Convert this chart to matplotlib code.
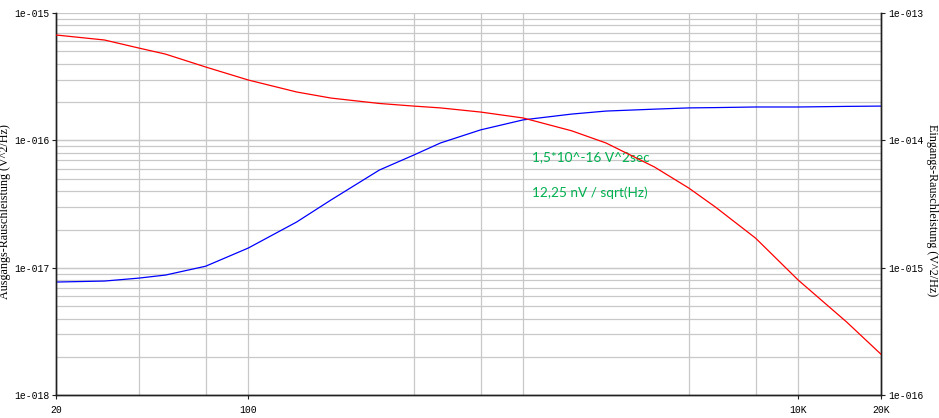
import numpy as np
import matplotlib.pyplot as plt
from matplotlib.ticker import FixedLocator, NullLocator, FixedFormatter

# Frequenzen (Hz)
freq = [20, 30, 40, 50, 70, 100, 150, 200, 300, 400, 500, 700, 1000,
        1500, 2000, 3000, 4000, 5000, 7000, 10000, 15000, 20000]

# Ausgangs-Rauschleistung (V^2/Hz), linke Achse
out_noise = [7.74e-18, 7.88e-18, 8.31e-18, 8.78e-18, 1.03e-17, 1.43e-17,
             2.29e-17, 3.41e-17, 5.86e-17, 7.68e-17, 9.55e-17, 1.21e-16,
             1.45e-16, 1.61e-16, 1.70e-16, 1.76e-16, 1.80e-16, 1.81e-16,
             1.83e-16, 1.83e-16, 1.85e-16, 1.86e-16]

# Eingangs-Rauschleistung (V^2/Hz), rechte Achse
in_noise = [6.72e-14, 6.14e-14, 5.31e-14, 4.76e-14, 3.77e-14, 2.98e-14,
            2.40e-14, 2.15e-14, 1.95e-14, 1.86e-14, 1.80e-14, 1.67e-14,
            1.50e-14, 1.19e-14, 9.55e-15, 6.19e-15, 4.23e-15, 3.00e-15,
            1.71e-15, 8.02e-16, 3.76e-16, 2.10e-16]

x_ticks = [20, 100, 10000, 20000]
x_tick_labels = ['20', '100', '10K', '20K']
x_grid = [40, 70, 100, 400, 700, 1000, 4000, 7000, 10000]

left_ticks = [1e-18, 1e-17, 1e-16, 1e-15]
left_labels = ['1e-018', '1e-017', '1e-016', '1e-015']
right_ticks = [1e-16, 1e-15, 1e-14, 1e-13]
right_labels = ['1e-016', '1e-015', '1e-014', '1e-013']

fig = plt.figure(figsize=(9.39, 4.18), dpi=100)
ax = fig.add_axes([56 / 939, 1 - 395.3 / 418, 825 / 939, 382.3 / 418])
ax2 = ax.twinx()

grid_col = '#c8c8c8'
ax.set_xscale('log')
ax.set_yscale('log')
ax.set_xlim(20, 20000)
ax.set_ylim(1e-18, 1e-15)
ax2.set_yscale('log')
ax2.set_ylim(1e-16, 1e-13)

# Gitter
for f in x_grid:
    ax.axvline(f, color=grid_col, lw=0.9, zorder=0)
for dec in [1e-18, 1e-17, 1e-16]:
    for m in range(1, 11):
        ax.axhline(dec * m, color=grid_col, lw=0.9, zorder=0)

ax.plot(freq, out_noise, color='#0000ff', lw=0.9, zorder=3)
ax2.plot(freq, in_noise, color='#ff0000', lw=0.9, zorder=3)

ax.xaxis.set_major_locator(FixedLocator(x_ticks))
ax.xaxis.set_major_formatter(FixedFormatter(x_tick_labels))
ax.xaxis.set_minor_locator(NullLocator())
ax.yaxis.set_major_locator(FixedLocator(left_ticks))
ax.yaxis.set_major_formatter(FixedFormatter(left_labels))
ax.yaxis.set_minor_locator(NullLocator())
ax2.yaxis.set_major_locator(FixedLocator(right_ticks))
ax2.yaxis.set_major_formatter(FixedFormatter(right_labels))
ax2.yaxis.set_minor_locator(NullLocator())

for a in (ax, ax2):
    a.tick_params(length=3, width=0.8, color='#202020', pad=2)
    for lab in a.get_xticklabels() + a.get_yticklabels():
        lab.set_fontfamily('Liberation Mono')
        lab.set_fontsize(7)
    a.spines['top'].set_visible(False)
    for s in ['left', 'right', 'bottom']:
        a.spines[s].set_color('#202020')
        a.spines[s].set_linewidth(1.0)
ax.tick_params(axis='x', pad=4)

fig.text(5 / 939, 1 - 212 / 418, 'Ausgangs-Rauschleistung (V^2/Hz)', rotation=90,
         ha='center', va='center', family='Liberation Serif', size=8.7)
fig.text(932 / 939, 1 - 210 / 418, 'Eingangs-Rauschleistung (V^2/Hz)', rotation=270,
         ha='center', va='center', family='Liberation Serif', size=8.7)

green = '#00b050'
ax.text(1080, 7.4e-17, '1,5*10^-16 V^2sec', color=green, family='Lato',
        size=9.8, va='center', ha='left', zorder=4)
ax.text(1080, 3.86e-17, '12,25 nV / sqrt(Hz)', color=green, family='Lato',
        size=9.8, va='center', ha='left', zorder=4)

fig.savefig('out.png', dpi=100)
